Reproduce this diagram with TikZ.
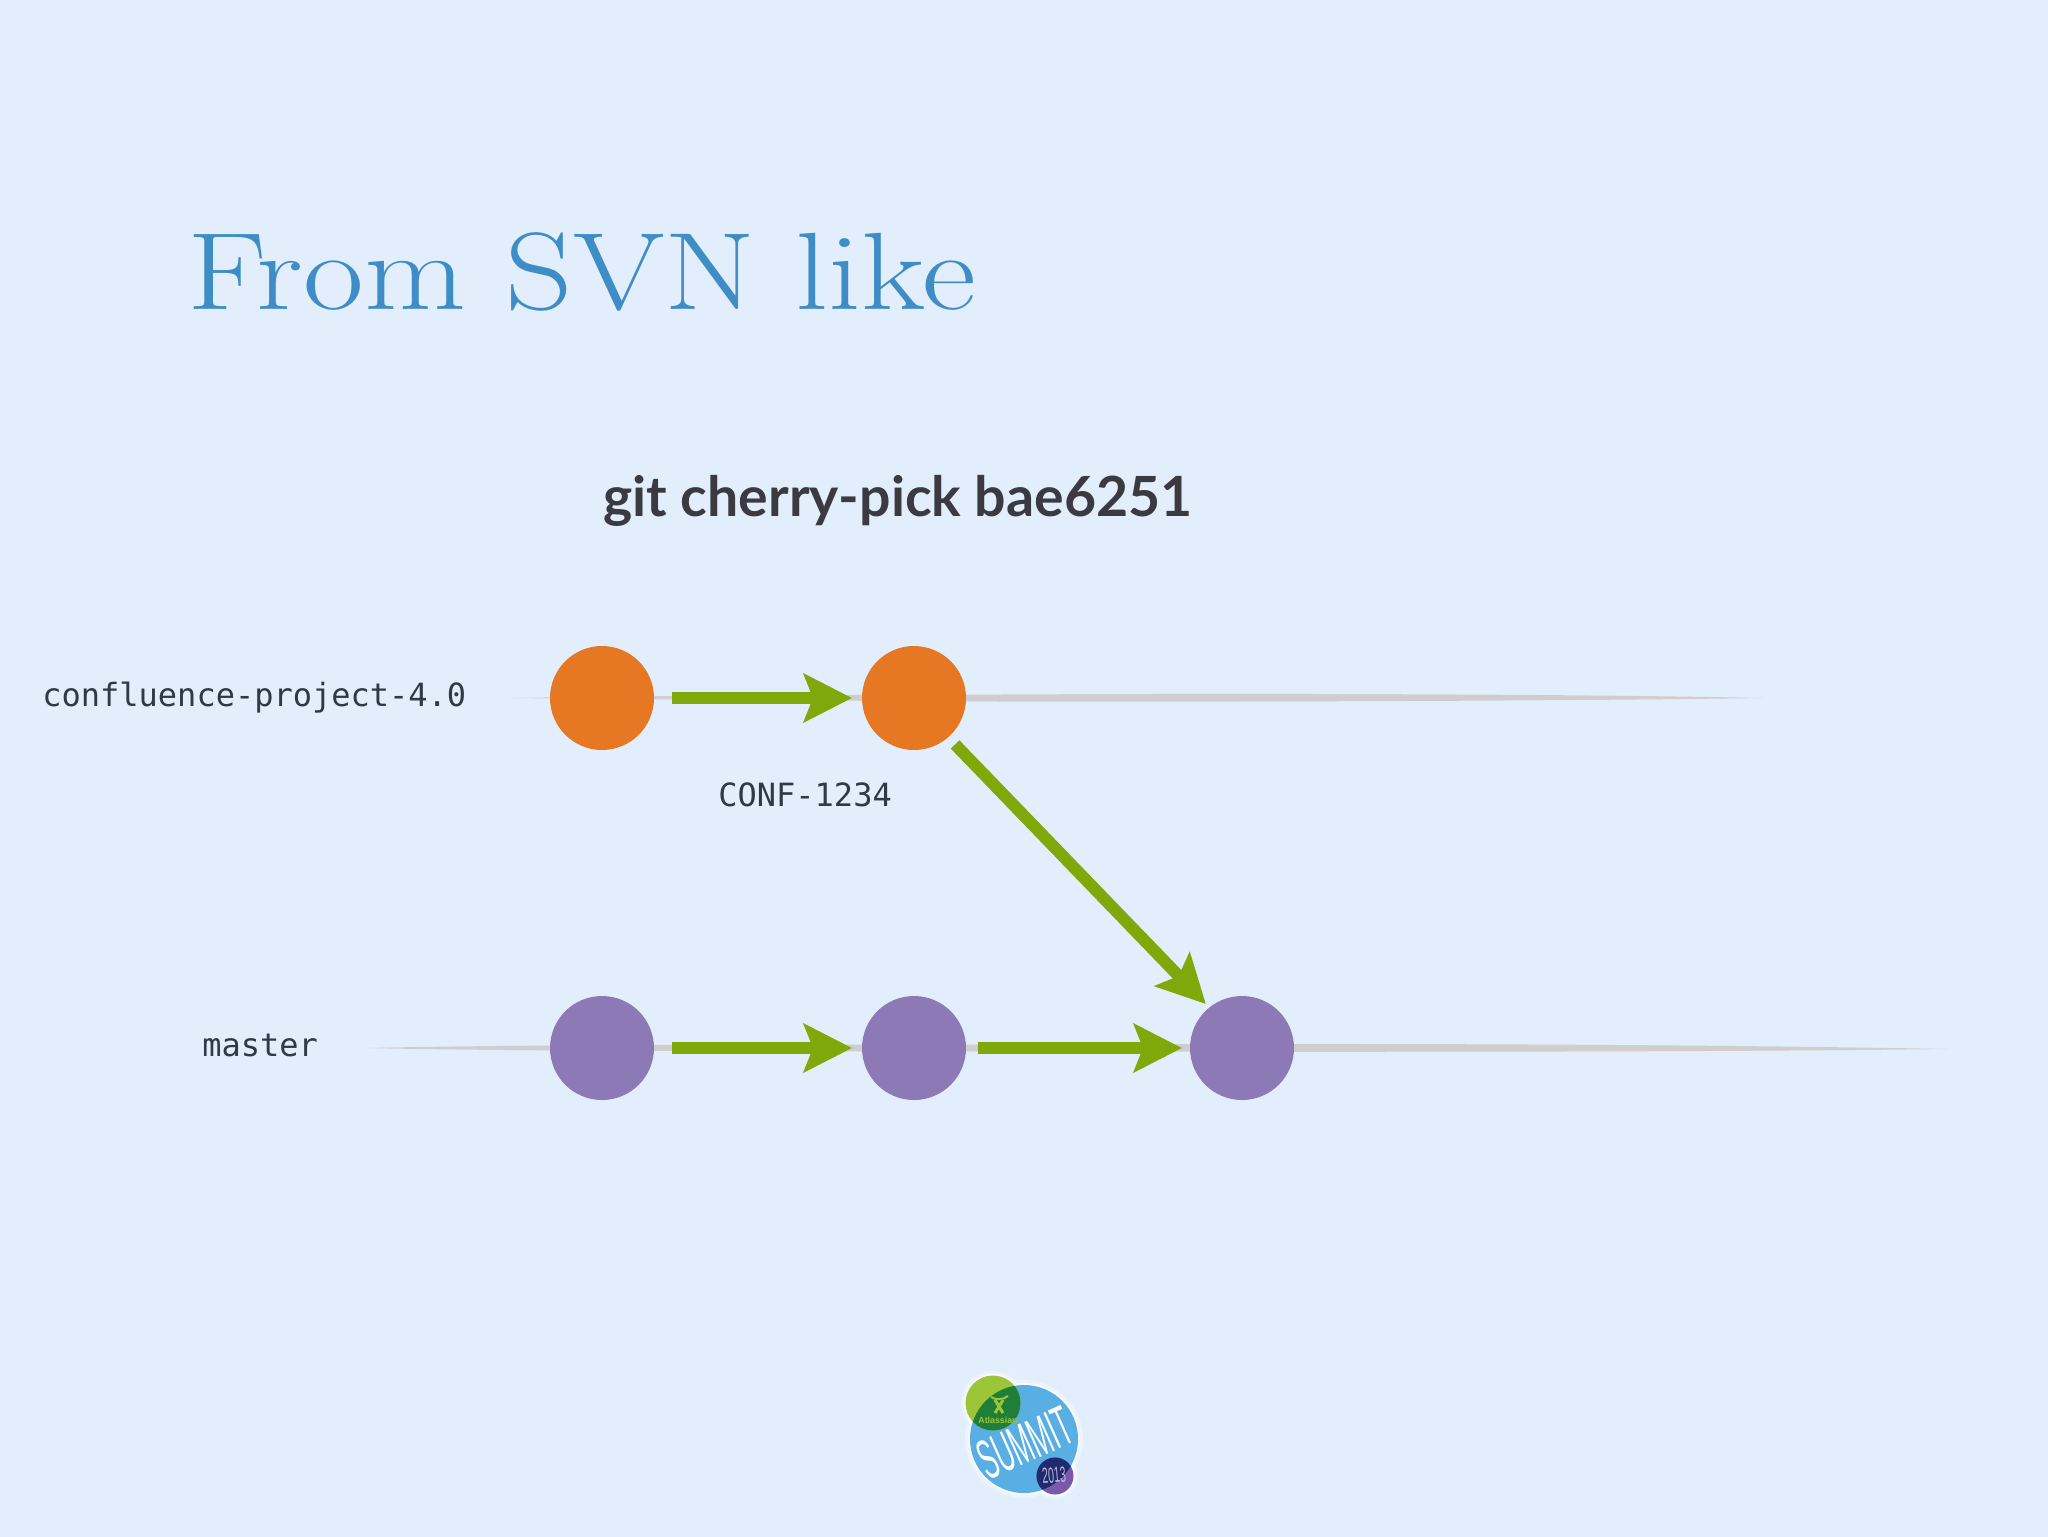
\documentclass[tikz,border=0pt]{standalone}
\usepackage{fontspec}
\usetikzlibrary{arrows.meta,calc}
\setmainfont{Latin Modern Roman}
\newfontfamily\monofam{DejaVu Sans Mono}
\newfontfamily\handfam{Lato}
\newfontfamily\logofam{Liberation Sans}
\definecolor{bgblue}{HTML}{E3EEFC}
\definecolor{titleblue}{HTML}{3F8DC6}
\definecolor{inkdark}{HTML}{2F3A46}
\definecolor{handink}{HTML}{3A3A40}
\definecolor{commitorange}{HTML}{E67823}
\definecolor{commitpurple}{HTML}{8E79B7}
\definecolor{arrowgreen}{HTML}{7FA80B}
\definecolor{brushgray}{HTML}{D0CDCF}
\definecolor{logoblue}{HTML}{59AEE3}
\definecolor{logolime}{HTML}{9CC53A}
\definecolor{logodarkgreen}{HTML}{1F7E38}
\definecolor{logonavy}{HTML}{1E2B6E}
\definecolor{logopurple}{HTML}{7A59AB}
\tikzset{
  commit/.style={circle,minimum size=52pt,inner sep=0pt,outer sep=0pt,fill=#1},
  flow/.style={draw=arrowgreen,line width=6pt,-{Stealth[length=24pt,width=24pt,inset=4.5pt,fill=arrowgreen]},shorten <=#1},
  mono/.style={font=\monofam\fontsize{16}{18}\selectfont,text=inkdark,inner sep=0pt,anchor=base west},
}
\begin{document}
\begin{tikzpicture}[x=0.5pt,y=-0.5pt]
\useasboundingbox (0,0) rectangle (2048,1536);
\fill[bgblue] (-6,-6) rectangle (2054,1542);
% brush strokes behind the commits
\fill[brushgray] (510,698) .. controls (700,695) and (900,694.5) .. (1000,694.5) .. controls (1300,693) and (1600,694.5) .. (1763,698) .. controls (1600,700.5) and (1300,702) .. (1000,701.5) .. controls (900,701) and (700,700) .. (510,698) -- cycle;
\fill[brushgray] (366,1048) .. controls (500,1045) and (700,1044.5) .. (1000,1044.5) .. controls (1400,1043) and (1700,1044.5) .. (1950,1049) .. controls (1700,1052) and (1400,1052) .. (1000,1051.5) .. controls (700,1051) and (500,1051) .. (366,1048) -- cycle;
% commits
\node[commit=commitorange] (o1) at (602,698) {};
\node[commit=commitorange] (o2) at (914,698) {};
\node[commit=commitpurple] (p1) at (602,1048) {};
\node[commit=commitpurple] (p2) at (914,1048) {};
\node[commit=commitpurple] (p3) at (1242,1048) {};
% connectors
\draw[flow=18*0.5pt,shorten >=5pt] (o1) -- (o2);
\draw[flow=18*0.5pt,shorten >=5pt,yshift=-0.75pt] (p1) -- (p2);
\draw[flow=12*0.5pt,shorten >=4pt,yshift=-0.75pt] (p2) -- (p3);
\draw[flow=5pt,shorten >=2.5pt] (o2.-49) -- (p3.129);
% texts
\node[anchor=base west,inner sep=0pt,text=titleblue,font=\fontsize{55}{60}\selectfont] (title) at (187,309) {\scalebox{1.2}[1]{From SVN like}};
\node[anchor=base west,inner sep=0pt,text=handink,font=\handfam\bfseries\fontsize{27.7}{30}\selectfont] (cmd) at (603,516) {git cherry-pick bae6251};
\node[mono] (lab1) at (42,706) {confluence-project-4.0};
\node[mono] (lab2) at (202,1056) {master};
\node[mono] (lab3) at (718,806) {CONF-1234};
% logo
\fill[white,opacity=.3] (1024,1439) circle (59);
\fill[white,opacity=.3] (993,1403) circle (32);
\fill[white,opacity=.3] (1055,1476) circle (23);
\fill[white,opacity=.6] (1024,1439) circle (56);
\fill[white,opacity=.6] (993,1403) circle (29.5);
\fill[white,opacity=.6] (1055,1476) circle (20.5);
\fill[logoblue] (1024,1439) circle (54);
\fill[logolime] (993,1403) circle (27.5);
\begin{scope}
\clip (1024,1439) circle (54);
\fill[logodarkgreen] (993,1403) circle (27.5);
\end{scope}
\fill[logopurple] (1055,1476) circle (18.5);
\begin{scope}
\clip (1024,1439) circle (54);
\fill[logonavy] (1055,1476) circle (18.5);
\end{scope}
\draw[logolime,line width=1pt] (991,1397) .. controls (995,1400) and (1003,1400) .. (1008,1396);
\draw[logolime,line width=1.5pt] (995,1400) -- (1003,1413);
\draw[logolime,line width=1.5pt] (1003,1400) -- (995,1413);
\node[inner sep=0pt,anchor=base,text=logolime,font=\logofam\bfseries\fontsize{4.4}{5}\selectfont] (atl) at (998,1423) {Atlassian};
\node[inner sep=0pt,text=white,font=\logofam\fontsize{28}{30}\selectfont,rotate=24] (summit) at (1025,1443) {\scalebox{.44}[1]{SUMMIT}};
\node[inner sep=0pt,text=logopurple!45!white,font=\logofam\fontsize{11}{12}\selectfont,rotate=5] (year) at (1054,1475) {\scalebox{.48}[1]{2013}};
\end{tikzpicture}
\end{document}
